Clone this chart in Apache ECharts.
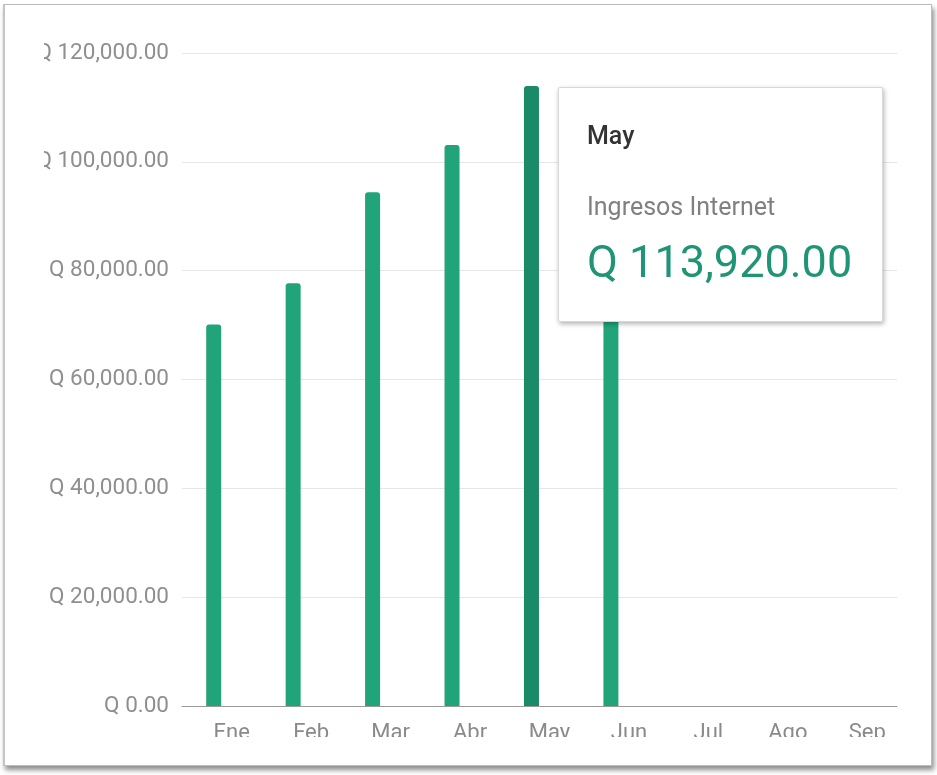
<!DOCTYPE html>
<html>
<head>
<meta charset="utf-8">
<script src="https://cdn.jsdelivr.net/npm/echarts@6/dist/echarts.min.js"></script>
<style>
  html, body { margin:0; padding:0; background:#ffffff; width:937px; height:775px; overflow:hidden; }
  #frame { position:absolute; left:3px; top:4px; width:926px; height:760px; border:1px solid #bdbdbd;
           border-left:2px solid #c4c4c4;
           box-shadow: 2px 4px 5px rgba(0,0,0,0.45); background:#fff; }
  #clip { position:absolute; left:44px; top:6px; width:887px; height:731px; overflow:hidden; }
  #chart { position:absolute; left:-44px; top:-6px; width:937px; height:775px; }
</style>
</head>
<body>
<div id="frame"></div>
<div id="clip"><div id="chart"></div></div>
<script>
// Data
var categories = ['Ene', 'Feb', 'Mar', 'Abr', 'May', 'Jun', 'Jul', 'Ago', 'Sep'];
var ingresosInternet = [70100, 77700, 94400, 103100, 113920, 91000, null, null, null];
var seriesName = 'Ingresos Internet';
var yMin = 0, yMax = 120000, yInterval = 20000;
var highlightIndex = 4;

function fmtQ(v) {
  return 'Q ' + Number(v).toLocaleString('en-US', {minimumFractionDigits: 2, maximumFractionDigits: 2});
}

var chart = echarts.init(document.getElementById('chart'), null, {renderer: 'canvas'});
chart.setOption({
  animation: false,
  backgroundColor: 'transparent',
  grid: { left: 182, right: 40, top: 53, bottom: 69, containLabel: false },
  tooltip: {
    trigger: 'item',
    alwaysShowContent: true,
    showDelay: 0,
    transitionDuration: 0,
    position: [558, 87],
    backgroundColor: '#ffffff',
    borderColor: '#d8d8d8',
    borderWidth: 1,
    borderRadius: 2,
    padding: 0,
    extraCssText: 'box-shadow: 1px 2px 5px rgba(0,0,0,0.3); width:325px; height:235px; box-sizing:border-box;',
    formatter: function (p) {
      return '<div style="padding:33px 0 0 28px; font-family:Roboto, sans-serif;">' +
        '<div style="font-size:25px; font-weight:500; color:#333; line-height:30px;">' + p.name + '</div>' +
        '<div style="font-size:25px; color:#808080; line-height:30px; margin-top:41px;">' + p.seriesName + '</div>' +
        '<div style="font-size:45px; color:#1f9576; line-height:52px; margin-top:14px;">' + fmtQ(p.value) + '</div>' +
        '</div>';
    }
  },
  xAxis: {
    type: 'category',
    data: categories,
    axisLine: { lineStyle: { color: '#9a9a9a', width: 1 } },
    axisTick: { show: false },
    axisLabel: {
      color: '#8a8a8a', fontFamily: 'Roboto', fontSize: 22, margin: 16,
      padding: [0, 0, 0, 20], interval: 0
    },
    splitLine: { show: false }
  },
  yAxis: {
    type: 'value',
    min: yMin, max: yMax, interval: yInterval,
    axisLine: { show: false },
    axisTick: { show: false },
    axisLabel: {
      color: '#8f8f8f', fontFamily: 'Roboto', fontSize: 22.5, margin: 13,
      formatter: function (v) { return fmtQ(v); }
    },
    splitLine: { lineStyle: { color: '#e6e6e6', width: 1 } }
  },
  series: [
    {
      name: seriesName,
      type: 'bar',
      data: ingresosInternet,
      barWidth: 15,
      barGap: '7%',
      itemStyle: { color: '#22a47b', borderRadius: [3, 3, 0, 0] },
      emphasis: { itemStyle: { color: '#1b8a67' } }
    },
    {
      name: '',
      type: 'bar',
      data: [],
      barWidth: 15,
      tooltip: { show: false }
    }
  ]
});
chart.dispatchAction({ type: 'highlight', seriesIndex: 0, dataIndex: highlightIndex });
chart.dispatchAction({ type: 'showTip', seriesIndex: 0, dataIndex: highlightIndex });
</script>
</body>
</html>
